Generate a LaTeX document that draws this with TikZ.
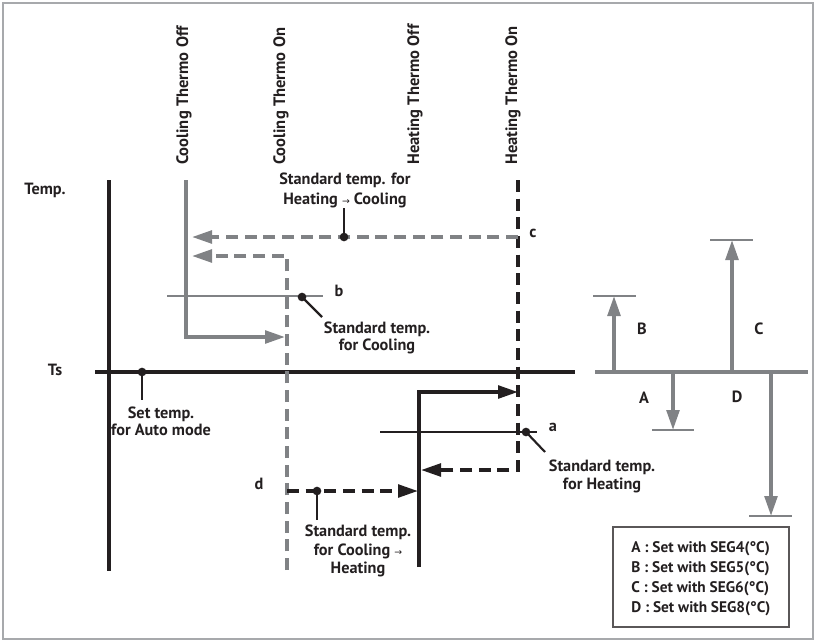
\documentclass[tikz,border=0pt]{standalone}
\usepackage{fontspec}
\setmainfont{PT Sans}
\newfontfamily\arrfont{DejaVu Sans}
\usetikzlibrary{arrows.meta}
\definecolor{lg}{HTML}{808285}
\definecolor{dk}{HTML}{231F20}
\definecolor{fr}{HTML}{A7A9AC}
\newcommand{\mainsz}[1]{\fontsize{12.2}{#1}\selectfont\bfseries}
\tikzset{
  lbl/.style={inner sep=0pt, text=dk, align=center},
  thermo/.style={rotate=90, anchor=west, inner sep=0pt, text=dk, font=\fontsize{12.4}{15}\selectfont\bfseries},
  axisline/.style={draw=dk, line width=2.6pt},
  gsolid/.style={draw=lg, line width=2.7pt},
  gdash/.style={draw=lg, line width=2.6pt, dash pattern=on 9pt off 5pt},
  kdash/.style={draw=dk, line width=2.6pt, dash pattern=on 9pt off 5pt},
  ksolid/.style={draw=dk, line width=2.7pt},
  thinline/.style={line width=1.2pt},
  tipk/.style={-{Triangle[length=15pt,width=9.5pt]}},
  dotk/.style={circle, fill=dk, inner sep=0pt, minimum size=6.5pt},
  capline/.style={draw=lg, line width=1.3pt},
}
\begin{document}
\begin{tikzpicture}[x=0.75pt,y=-0.75pt,font=\mainsz{15}]
\useasboundingbox (0,0) rectangle (816,642);
\draw[fr, line width=2.2pt] (3,3) rectangle (813,639);

% axes
\coordinate (axT) at (109,180);
\coordinate (axB) at (109,571);
\coordinate (tsL) at (95,372);
\coordinate (tsR) at (575,372);
\draw[axisline] (axT) -- (axB);
\draw[axisline] (tsL) -- (tsR);
\node[lbl] (temp) at (45,190) {Temp.};
\node[lbl] (ts) at (55,370) {Ts};

% thermo labels
\node[thermo] (cto) at (184,165) {Cooling Thermo Off};
\node[thermo] (ctn) at (281,165) {Cooling Thermo On};
\node[thermo] (hto) at (415,165) {Heating Thermo Off};
\node[thermo] (htn) at (513,165) {Heating Thermo On};

% cooling thermo off (gray solid)
\coordinate (g1) at (186,180);
\coordinate (g2) at (186,337);
\coordinate (g3) at (285,337);
\draw[gsolid, tipk] (g1) -- (g2) -- (g3);

% cooling thermo on (gray dashed)
\coordinate (gd1) at (287,570);
\coordinate (gd2) at (287,256);
\coordinate (gd3) at (192,256);
\draw[gdash, tipk] (gd1) -- (gd2) -- (gd3);

% heating thermo on (black dashed)
\coordinate (k1) at (518,180);
\coordinate (k2) at (518,470);
\coordinate (k3) at (421,470);
\draw[kdash, tipk] (k1) -- (k2) -- (k3);

% c line (gray dashed)
\coordinate (c1) at (518,237);
\coordinate (c2) at (192,237);
\draw[gdash, tipk] (c1) -- (c2);

% heating thermo off (black solid)
\coordinate (h1) at (419,567);
\coordinate (h2) at (419,392);
\coordinate (h3) at (518,392);
\draw[ksolid, tipk] (h1) -- (h2) -- (h3);

% d line (black dashed)
\coordinate (d1) at (287,491);
\coordinate (d2) at (418,491);
\draw[kdash, tipk] (d1) -- (d2);

% thin lines
\coordinate (b1) at (167,296);
\coordinate (b2) at (323,296);
\draw[draw=lg, thinline] (b1) -- (b2);
\coordinate (a1) at (380,432);
\coordinate (a2) at (537,432);
\draw[draw=dk, thinline] (a1) -- (a2);

% dots and leaders
\node[dotk] (dc) at (344,237) {};
\coordinate (dcs) at (344,208);
\draw[draw=dk, line width=1.6pt] (dc.center) -- (dcs);
\node[lbl] (tc) at (345,190) {Standard temp. for\\Heating {\arrfont\fontsize{7}{8}\selectfont\mdseries →} Cooling};
\node[lbl] (lc) at (533,233) {c};

\node[dotk] (db) at (302,297) {};
\coordinate (dbs) at (322,317);
\draw[draw=dk, line width=1.6pt] (db.center) -- (dbs);
\node[lbl] (lb) at (339,291) {b};
\node[lbl, font=\mainsz{12.75}] (tb) at (377,338) {Standard temp.\\for Cooling};

\node[dotk] (da) at (526,432) {};
\coordinate (das) at (545,452);
\draw[draw=dk, line width=1.6pt] (da.center) -- (das);
\node[lbl] (la) at (553,427) {a};
\node[lbl, font=\mainsz{13.5}] (ta) at (602,476) {Standard temp.\\for Heating};

\node[dotk] (dd) at (317,491) {};
\coordinate (dds) at (317,520);
\draw[draw=dk, line width=1.6pt] (dd.center) -- (dds);
\node[lbl] (ld) at (259,484) {d};
\node[lbl, font=\mainsz{14}] (td) at (358,551) {Standard temp.\\for Cooling {\arrfont\fontsize{7}{8}\selectfont\mdseries →}\\Heating};

\node[dotk] (dt) at (142,372) {};
\coordinate (dts) at (142,400);
\draw[draw=dk, line width=1.6pt] (dt.center) -- (dts);
\node[lbl, font=\mainsz{12.75}] (tt) at (161,421) {Set temp.\\for Auto mode};

% right side scale
\coordinate (rL) at (595,372);
\coordinate (rR) at (808,372);
\draw[gsolid] (rL) -- (rR);
\coordinate (B0) at (614,372);
\coordinate (B1) at (614,296);
\draw[gsolid, tipk] (B0) -- (B1);
\draw[capline] (593,296) -- (636,296);
\coordinate (C0) at (732,372);
\coordinate (C1) at (732,240);
\draw[gsolid, tipk] (C0) -- (C1);
\draw[capline] (710,240) -- (753,240);
\coordinate (A0) at (673,372);
\coordinate (A1) at (673,430);
\draw[gsolid, tipk] (A0) -- (A1);
\draw[capline] (652,430) -- (694,430);
\coordinate (D0) at (771,372);
\coordinate (D1) at (771,516);
\draw[gsolid, tipk] (D0) -- (D1);
\draw[capline] (749,516) -- (792,516);
\node[lbl] (lA) at (644,398) {A};
\node[lbl] (lB) at (642,329) {B};
\node[lbl] (lC) at (759,329) {C};
\node[lbl] (lD) at (737,397) {D};

% legend
\draw[draw=dk!75, line width=1.1pt] (613,527) rectangle (789,627);
\node[lbl, anchor=west, align=left, font=\fontsize{11.5}{15}\selectfont\bfseries] (leg) at (631,578.5) {A : Set with SEG4(°C)\\B : Set with SEG5(°C)\\C : Set with SEG6(°C)\\D : Set with SEG8(°C)};
\end{tikzpicture}
\end{document}
